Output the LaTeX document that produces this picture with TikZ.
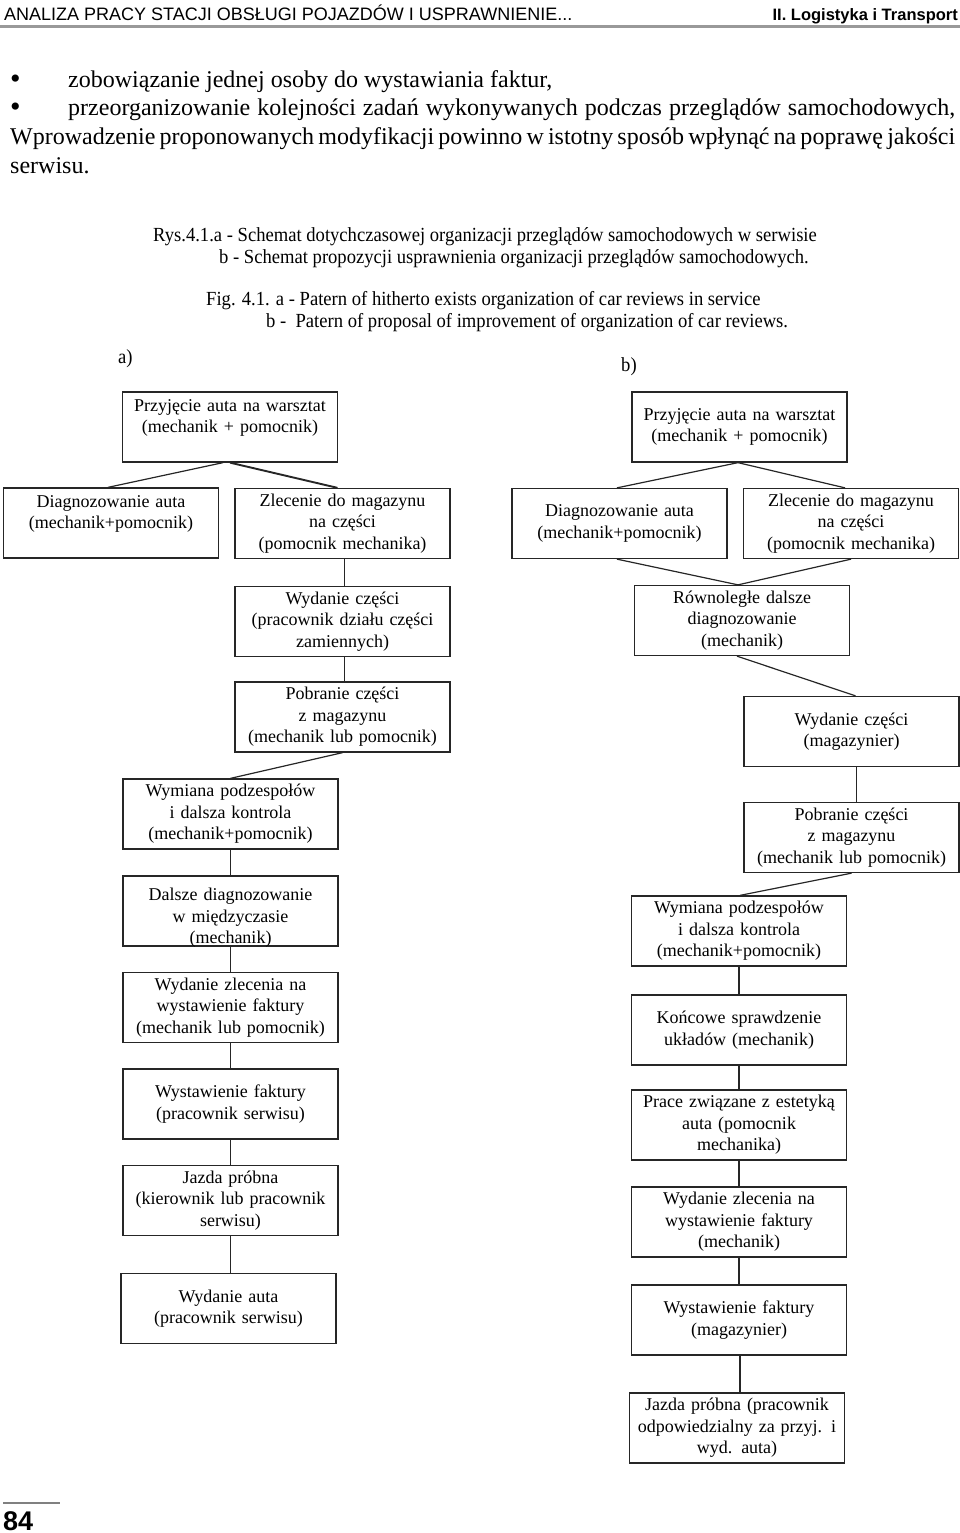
\documentclass[tikz,border=0pt]{standalone}
\usepackage{fontspec}
\setmainfont{Liberation Serif}
\newfontfamily\bodyfont{Liberation Serif}
\newfontfamily\capfont[FakeStretch=0.93]{Liberation Serif}
\newfontfamily\headfont{Liberation Sans}
\newcommand\boxfont{\fontsize{18}{21.6}\selectfont}
\begin{document}
\begin{tikzpicture}[x=1pt,y=-1pt,
  box/.style={draw=black!85, line width=1.3pt, minimum width=215pt, minimum height=70pt,
    text width=212pt, align=center, inner sep=0pt, font=\boxfont},
  conn/.style={draw=black!85, line width=1.2pt},
  bodytxt/.style={anchor=base west, inner sep=0pt, font=\bodyfont\fontsize{24}{29}\selectfont},
  bullettxt/.style={anchor=base west, inner sep=0pt, font=\bodyfont\fontsize{30}{30}\selectfont},
  captxt/.style={anchor=base west, inner sep=0pt, font=\capfont\fontsize{20}{22}\selectfont},
  headtxt/.style={inner sep=0pt, font=\headfont\fontsize{18}{20}\selectfont}]
\useasboundingbox (0,0) rectangle (960,1533);
% header
\node[headtxt, anchor=base west] (hl) at (4,20.5) {ANALIZA PRACY STACJI OBSŁUGI POJAZDÓW I USPRAWNIENIE...};
\node[headtxt, anchor=base east, font=\headfont\bfseries\fontsize{16.5}{20}\selectfont] (hr) at (958,20.5) {II. Logistyka i Transport};
\draw[black!40, line width=2.5pt] (0,26.5) -- (960,26.5);
% body text
\node[bullettxt] (b1dot) at (10,89) {•};
\node[bodytxt] (t1) at (68,88) {zobowiązanie jednej osoby do wystawiania faktur,};
\node[bullettxt] (b2dot) at (10,117) {•};
\node[bodytxt] (t2) at (68,116) {\makebox[887pt][s]{przeorganizowanie kolejności zadań wykonywanych podczas przeglądów samochodowych,}};
\node[bodytxt] (t3) at (10,145) {\makebox[945pt][s]{Wprowadzenie proponowanych modyfikacji powinno w istotny sposób wpłynąć na poprawę jakości}};
\node[bodytxt] (t4) at (10,174) {serwisu.};
% captions
\node[captxt] (c1) at (153,241) {Rys.4.1.a - Schemat dotychczasowej organizacji przeglądów samochodowych w serwisie};
\node[captxt] (c2) at (219,263) {b - Schemat propozycji usprawnienia organizacji przeglądów samochodowych.};
\node[captxt] (c3) at (206,305) {Fig. 4.1. a - Patern of hitherto exists organization of car reviews in service};
\node[captxt] (c4) at (266,327) {b -\ \ Patern of proposal of improvement of organization of car reviews.};
\node[captxt] (la) at (118,363) {a)};
\node[captxt] (lb) at (621,371) {b)};
% column a
\node[box] (a1) at (230,427) {Przyjęcie auta na warsztat\\(mechanik + pomocnik)\\\mbox{}};
\node[box] (a2) at (111,523) {Diagnozowanie auta\\(mechanik+pomocnik)\\\mbox{}};
\node[box] (a3) at (342.5,523.5) {Zlecenie do magazynu\\na części\\(pomocnik mechanika)};
\node[box] (a4) at (342.5,621.5) {Wydanie części\\(pracownik działu części\\zamiennych)};
\node[box] (a5) at (342.5,717) {Pobranie części\\z magazynu\\(mechanik lub pomocnik)};
\node[box] (a6) at (230.5,814) {Wymiana podzespołów\\i dalsza kontrola\\(mechanik+pomocnik)};
\node[box, text height=12pt, text depth=33pt] (a7) at (230.5,911) {Dalsze diagnozowanie\\w międzyczasie\\(mechanik)};
\node[box] (a8) at (230.5,1007.5) {Wydanie zlecenia na\\wystawienie faktury\\(mechanik lub pomocnik)};
\node[box] (a9) at (230.5,1104) {Wystawienie faktury\\(pracownik serwisu)};
\node[box] (a10) at (230.5,1200.5) {Jazda próbna\\(kierownik lub pracownik\\serwisu)};
\node[box] (a11) at (228.5,1308.5) {Wydanie auta\\(pracownik serwisu)};
% column b
\node[box] (b1) at (739.5,427) {Przyjęcie auta na warsztat\\(mechanik + pomocnik)};
\node[box] (b2) at (619.5,523.5) {Diagnozowanie auta\\(mechanik+pomocnik)};
\node[box] (b3) at (851,523.5) {Zlecenie do magazynu\\na części\\(pomocnik mechanika)};
\node[box] (b4) at (742,620.5) {Równoległe dalsze\\diagnozowanie\\(mechanik)};
\node[box] (b5) at (851.5,731.5) {Wydanie części\\(magazynier)};
\node[box] (b6) at (851.5,837.5) {Pobranie części\\z magazynu\\(mechanik lub pomocnik)};
\node[box] (b7) at (739,931) {Wymiana podzespołów\\i dalsza kontrola\\(mechanik+pomocnik)};
\node[box] (b8) at (739,1030) {Końcowe sprawdzenie\\układów (mechanik)};
\node[box] (b9) at (739,1125) {Prace związane z estetyką\\auta (pomocnik\\mechanika)};
\node[box] (b10) at (739,1222) {Wydanie zlecenia na\\wystawienie faktury\\(mechanik)};
\node[box] (b11) at (739,1320) {Wystawienie faktury\\(magazynier)};
\node[box] (b12) at (737,1428) {Jazda próbna (pracownik\\odpowiedzialny za przyj. i\\wyd. auta)};
% connectors a
\draw[conn] ([xshift=-7pt]a1.south) -- ([xshift=-3pt]a2.north);
\draw[conn, line width=1.9pt] (a1.south) -- ([xshift=-5pt]a3.north);
\draw[conn] ([xshift=2pt]a3.south) -- ([xshift=2pt]a4.north);
\draw[conn] ([xshift=2pt]a4.south) -- ([xshift=2pt]a5.north);
\draw[conn] (a5.south) -- (a6.north);
\draw[conn] (a6.south) -- (a7.north);
\draw[conn] (a7.south) -- (a8.north);
\draw[conn] (a8.south) -- (a9.north);
\draw[conn] (a9.south) -- (a10.north);
\draw[conn] (a10.south) -- (a10.south |- a11.north);
% connectors b
\draw[conn] ([xshift=-1.5pt]b1.south) -- ([xshift=-2.5pt]b2.north);
\draw[conn] ([xshift=-1.5pt]b1.south) -- ([xshift=-6pt]b3.north);
\draw[conn] ([xshift=-2.5pt]b2.south) -- ([xshift=-4pt]b4.north);
\draw[conn] (b3.south) -- ([xshift=-4pt]b4.north);
\draw[conn] ([xshift=-5pt]b4.south) -- ([xshift=4pt]b5.north);
\draw[conn, line width=1.6pt] ([xshift=5pt]b5.south) -- ([xshift=5pt]b6.north);
\draw[conn] (b6.south) -- ([xshift=1pt]b7.north);
\draw[conn] (b7.south) -- (b8.north);
\draw[conn] (b8.south) -- (b9.north);
\draw[conn] (b9.south) -- (b10.north);
\draw[conn] (b10.south) -- (b11.north);
\draw[conn] ([xshift=1pt]b11.south) -- ([xshift=1pt]b11.south |- b12.north);
% footer
\draw[black!50, line width=1.5pt] (3,1503) -- (60,1503);
\node[inner sep=0pt, anchor=base west, font=\headfont\bfseries\fontsize{27}{30}\selectfont] (pg) at (3,1530) {84};
\end{tikzpicture}
\end{document}
